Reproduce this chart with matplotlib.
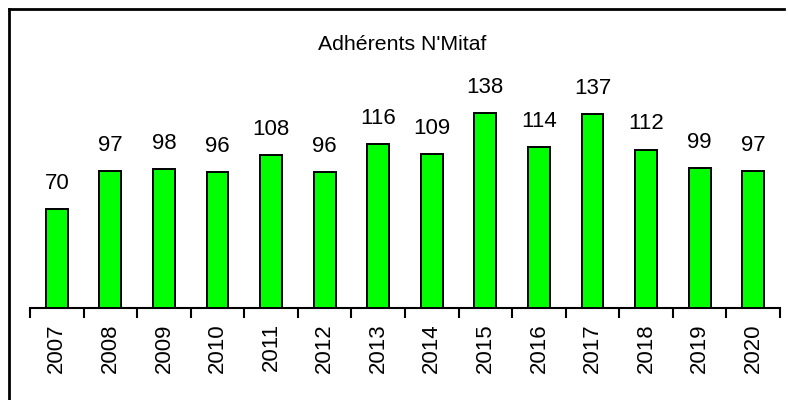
import matplotlib.pyplot as plt
from matplotlib.lines import Line2D

years = ['2007', '2008', '2009', '2010', '2011', '2012', '2013',
         '2014', '2015', '2016', '2017', '2018', '2019', '2020']
members = [70, 97, 98, 96, 108, 96, 116, 109, 138, 114, 137, 112, 99, 97]

plt.rcParams['font.family'] = ['Liberation Sans', 'DejaVu Sans']

W, H = 788, 400
fig = plt.figure(figsize=(W / 100, H / 100), dpi=100)
ax = fig.add_axes([30 / W, 1 - 308 / H, 750 / W, 226.3 / H])

x = range(len(years))
bars = ax.bar(x, members, width=0.41, color='#00ff00', edgecolor='black',
              linewidth=1.4, zorder=3)
for xi, v in zip(x, members):
    ax.annotate(str(v), (xi, v), xytext=(0, 14.5), textcoords='offset points',
                ha='center', va='baseline', fontsize=16)

ax.set_xlim(-0.5, len(years) - 0.5)
ax.set_ylim(0, 160)
ax.set_xticks([i - 0.5 for i in range(len(years) + 1)])
ax.set_xticklabels([])
ax.set_xticks(list(x), minor=True)
ax.set_xticklabels(years, minor=True, rotation=90, fontsize=16)
ax.tick_params(axis='x', which='major', length=7, width=1.5, direction='out')
ax.tick_params(axis='x', which='minor', length=0, pad=11)
ax.set_yticks([])
for side in ['top', 'right', 'left']:
    ax.spines[side].set_visible(False)
ax.spines['bottom'].set_linewidth(1.5)

fig.text(402 / W, 1 - 45 / H, "Adhérents N'Mitaf", ha='center', va='center',
         fontsize=15.3)

# outer frame (left and top edges only visible)
fig.add_artist(Line2D([9 / W, 9 / W], [0, 1 - 9 / H], color='black', lw=2))
fig.add_artist(Line2D([9 / W, 784 / W], [1 - 9 / H, 1 - 9 / H], color='black', lw=2))

fig.savefig('out.png', dpi=100)
